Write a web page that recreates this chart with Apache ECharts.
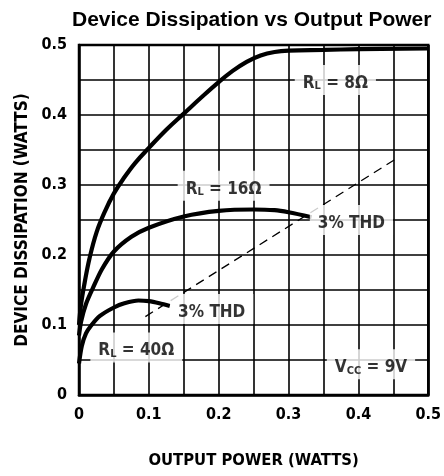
<!DOCTYPE html>
<html>
<head>
<meta charset="utf-8">
<script src="https://cdn.jsdelivr.net/npm/echarts@6/dist/echarts.min.js"></script>
<style>html,body{margin:0;padding:0;background:#fff}#c{width:444px;height:476px}</style>
</head>
<body>
<div id="c"></div>
<script>
// ---- data ----
const xTickLabels = ['0', '0.1', '0.2', '0.3', '0.4', '0.5'];
const yTickLabels = ['0', '0.1', '0.2', '0.3', '0.4', '0.5'];

const rl8 = [[0,0.10],[0.003,0.13],[0.008,0.16],[0.015,0.195],[0.025,0.232],[0.037,0.262],[0.05,0.288],[0.065,0.311],[0.08,0.331],[0.1,0.353],[0.125,0.379],[0.15,0.402],[0.175,0.425],[0.2,0.447],[0.22,0.463],[0.24,0.476],[0.26,0.485],[0.28,0.49],[0.3,0.492],[0.35,0.493],[0.4,0.494],[0.5,0.495]];
const rl16 = [[0,0.085],[0.003,0.105],[0.01,0.13],[0.02,0.153],[0.033,0.18],[0.05,0.205],[0.075,0.226],[0.1,0.239],[0.15,0.255],[0.2,0.263],[0.25,0.265],[0.28,0.264],[0.3,0.261],[0.333,0.254]];
const rl40 = [[0,0.045],[0.004,0.07],[0.01,0.088],[0.018,0.1],[0.03,0.113],[0.05,0.125],[0.065,0.131],[0.085,0.135],[0.1,0.134],[0.115,0.131],[0.13,0.127]];
const thd = [[0.095,0.112],[0.458,0.34]];

const annotations = [
  {name:'rl8',  pos:[0.367,0.45],  text:'{r|R}{s|L}{r| = 8Ω}'},
  {name:'rl16', pos:[0.207,0.299], text:'{r|R}{s|L}{r| = 16Ω}'},
  {name:'thd1', pos:[0.39,0.25],   text:'{r|3% THD}'},
  {name:'thd2', pos:[0.19,0.123],  text:'{r|3% THD}'},
  {name:'rl40', pos:[0.082,0.068], text:'{r|R}{s|L}{r| = 40Ω}'},
  {name:'vcc',  pos:[0.418,0.044], text:'{r|V}{s|CC}{r| = 9V}'}
];

const COND = "'Liberation Sans Narrow','DejaVu Sans Condensed','Roboto Condensed','Arial Narrow','Liberation Sans',sans-serif";

function fmt(labels) {
  return function (v) {
    const k = Math.round(v * 100);
    if (k % 10 !== 0) return '';
    return labels[k / 10];
  };
}

const chart = echarts.init(document.getElementById('c'), null, {renderer: 'canvas'});

const curveStyle = {color: '#000', width: 4.2};

const series = [
  {type:'line', data: rl8, smooth: 0.4, showSymbol:false, lineStyle: curveStyle, z: 3},
  {type:'line', data: rl16, smooth: 0.3, showSymbol:false, lineStyle: curveStyle, z: 3},
  {type:'line', data: rl40, smooth: 0.3, showSymbol:false, lineStyle: curveStyle, z: 3},
  {type:'line', data: thd, showSymbol:false, lineStyle: {color:'#000', width:1.3, type:[9,6]}, z: 3}
];

annotations.forEach(a => {
  series.push({
    type:'scatter', data:[a.pos], symbolSize: 0, silent: true, z: 10,
    label: {
      show: true, position: 'inside', formatter: a.text,
      backgroundColor: '#fff', padding: [3, 8, 3, 8],
      rich: {
        r: {fontFamily: COND, fontWeight: 'bold', fontSize: 17, color: '#000', lineHeight: 24, verticalAlign: 'bottom'},
        s: {fontFamily: COND, fontWeight: 'bold', fontSize: 11, color: '#000', lineHeight: 13, verticalAlign: 'bottom'}
      }
    }
  });
});

chart.setOption({
  animation: false,
  backgroundColor: '#fff',
  title: {
    text: 'Device Dissipation vs Output Power',
    left: 67, top: 5,
    textStyle: {fontFamily: "'Liberation Sans',Arial,sans-serif", fontWeight: 'bold', fontSize: 21, color: '#000'}
  },
  grid: {left: 79, right: 13, top: 45, bottom: 81, show: true, borderColor: '#000', borderWidth: 2.5, backgroundColor: 'transparent'},
  xAxis: {
    type: 'value', min: 0, max: 0.5, interval: 0.05,
    name: 'OUTPUT POWER (WATTS)', nameLocation: 'middle', nameGap: 57,
    nameTextStyle: {fontFamily: COND, fontWeight: 'bold', fontSize: 16.5, color: '#000'},
    axisLine: {show: true, lineStyle: {color:'#000', width: 2.5}},
    axisTick: {show: false},
    axisLabel: {formatter: fmt(xTickLabels), margin: 12, fontFamily: COND, fontWeight: 'bold', fontSize: 16, color: '#000'},
    splitLine: {show: true, lineStyle: {color: '#000', width: 1.6}}
  },
  yAxis: {
    type: 'value', min: 0, max: 0.5, interval: 0.05,
    name: 'DEVICE DISSIPATION (WATTS)', nameLocation: 'middle', nameGap: 48,
    nameTextStyle: {fontFamily: COND, fontWeight: 'bold', fontSize: 17, color: '#000'},
    axisLine: {show: true, lineStyle: {color:'#000', width: 2.5}},
    axisTick: {show: false},
    axisLabel: {formatter: fmt(yTickLabels), margin: 12, fontFamily: COND, fontWeight: 'bold', fontSize: 16, color: '#000'},
    splitLine: {show: true, lineStyle: {color: '#000', width: 1.6}}
  },
  series: series
});
</script>
</body>
</html>
